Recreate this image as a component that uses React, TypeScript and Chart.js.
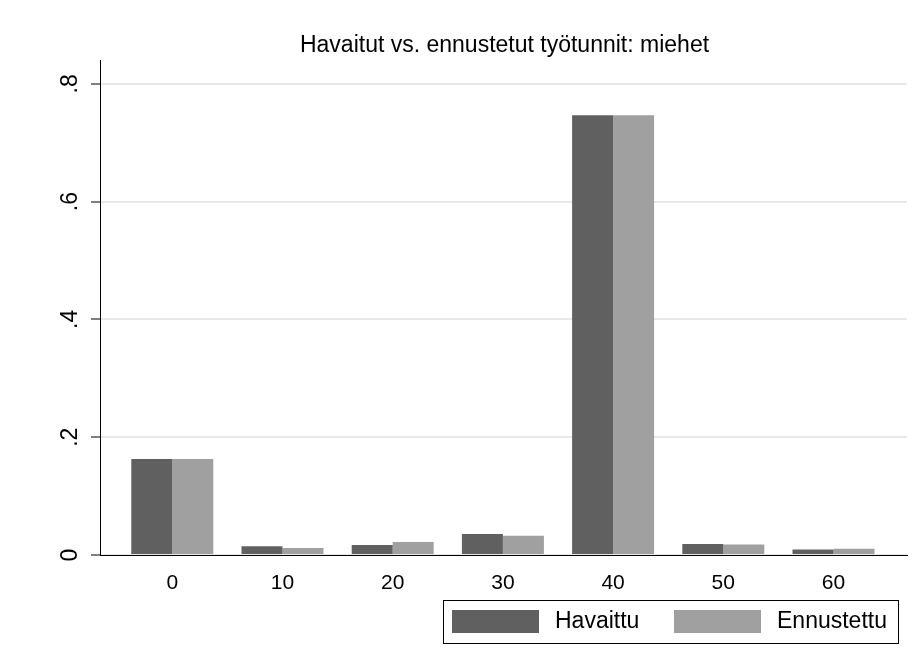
import React, { useEffect, useRef } from 'react';
import { Chart, registerables } from 'chart.js';

Chart.register(...registerables);

const TITLE = 'Havaitut vs. ennustetut työtunnit: miehet';
const hours = [0, 10, 20, 30, 40, 50, 60];
const havaittu = [0.163, 0.0147, 0.017, 0.0357, 0.7465, 0.0186, 0.0095];
const ennustettu = [0.163, 0.0119, 0.022, 0.0328, 0.7465, 0.018, 0.0108];
const seriesLabels = ['Havaittu', 'Ennustettu'];
const seriesColors = ['#606060', '#a0a0a0'];
const yTicks = [0, 0.2, 0.4, 0.6, 0.8];
const yTickLabels = ['0', '.2', '.4', '.6', '.8'];
const xTicks = [0, 10, 20, 30, 40, 50, 60];
const xMin = -6.56;
const xMax = 66.67;
const yMax = 0.8404;

const FONT = '"Liberation Sans", Arial, Helvetica, sans-serif';

const overlayPlugin = {
  id: 'overlay',
  afterDraw(chart: any) {
    const { ctx, chartArea } = chart;
    ctx.save();
    // title
    ctx.fillStyle = '#000';
    ctx.font = `23px ${FONT}`;
    ctx.textAlign = 'center';
    ctx.textBaseline = 'middle';
    ctx.fillText(TITLE, (chartArea.left + chartArea.right) / 2 + 1, 46);

    // legend
    const bx = 443, by = 600, bw = 455, bh = 43;
    ctx.fillStyle = '#fff';
    ctx.fillRect(bx, by, bw, bh);
    ctx.strokeStyle = '#000';
    ctx.lineWidth = 1;
    ctx.strokeRect(bx + 0.5, by + 0.5, bw, bh);
    const swatchX = [452, 674];
    const textX = [555, 777];
    ctx.font = `23px ${FONT}`;
    ctx.textAlign = 'left';
    ctx.textBaseline = 'middle';
    chart.data.datasets.forEach((ds: any, i: number) => {
      ctx.fillStyle = ds.backgroundColor;
      ctx.fillRect(swatchX[i], 610, 87, 23);
      ctx.fillStyle = '#000';
      ctx.fillText(ds.label, textX[i], 622);
    });
    ctx.restore();
  },
};

export default function App() {
  const canvasRef = useRef<HTMLCanvasElement | null>(null);

  useEffect(() => {
    const canvas = canvasRef.current;
    if (!canvas) return;
    const series = [havaittu, ennustettu];
    const chart = new Chart(canvas, {
      type: 'bar',
      data: {
        datasets: series.map((vals, i) => ({
          label: seriesLabels[i],
          data: hours.map((h, j) => ({ x: h, y: vals[j] })),
          backgroundColor: seriesColors[i],
          borderWidth: 0,
          categoryPercentage: 0.744,
          barPercentage: 1,
        })),
      },
      options: {
        animation: false,
        responsive: false,
        maintainAspectRatio: false,
        events: [],
        layout: { padding: { top: 60, right: 13, left: 0, bottom: 0 } },
        plugins: {
          legend: { display: false },
          title: { display: false },
          tooltip: { enabled: false },
        },
        scales: {
          x: {
            type: 'linear',
            min: xMin,
            max: xMax,
            offset: false,
            grid: { display: false, offset: false, drawTicks: false },
            border: { display: true, color: '#000', width: 1 },
            afterBuildTicks: (axis: any) => {
              axis.ticks = xTicks.map((v) => ({ value: v }));
            },
            afterFit: (axis: any) => {
              axis.height = 671 - 555;
            },
            ticks: {
              color: '#000',
              font: { family: FONT, size: 21 },
              padding: 16,
              maxRotation: 0,
              minRotation: 0,
              autoSkip: false,
              callback: (v: any) => String(v),
            },
          },
          y: {
            type: 'linear',
            min: 0,
            max: yMax,
            grid: {
              color: '#e8e8e8',
              lineWidth: 2,
              drawTicks: true,
              tickLength: 9,
              tickColor: '#000',
              tickWidth: 1,
            },
            border: { display: true, color: '#000', width: 1 },
            afterBuildTicks: (axis: any) => {
              axis.ticks = yTicks.map((v) => ({ value: v }));
            },
            afterFit: (axis: any) => {
              axis.width = 100;
            },
            ticks: {
              color: '#000',
              font: { family: FONT, size: 23 },
              minRotation: 90,
              maxRotation: 90,
              crossAlign: 'center',
              padding: 11,
              autoSkip: false,
              callback: (v: any) => {
                const idx = yTicks.findIndex((t) => Math.abs(t - v) < 1e-9);
                return idx >= 0 ? yTickLabels[idx] : '';
              },
            },
          },
        },
      },
      plugins: [overlayPlugin],
    } as any);
    return () => chart.destroy();
  }, []);

  return (
    <div style={{ position: 'fixed', left: 0, top: 0, width: 920, height: 671, background: '#fff' }}>
      <canvas ref={canvasRef} width={920} height={671} style={{ display: 'block', width: 920, height: 671 }} />
    </div>
  );
}
